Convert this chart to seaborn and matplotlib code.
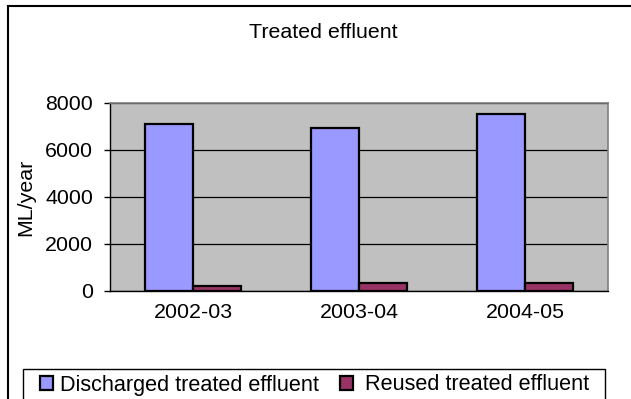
import matplotlib
matplotlib.use("Agg")
import matplotlib.pyplot as plt
from matplotlib.patches import Rectangle, Patch
import seaborn as sns
import pandas as pd

years = ["2002-03", "2003-04", "2004-05"]
discharged = [7100, 6900, 7500]
reused = [230, 330, 330]
series_names = ["Discharged treated effluent", "Reused treated effluent"]
yticks = [0, 2000, 4000, 6000, 8000]

df = pd.DataFrame({
    "year": years * 2,
    "value": discharged + reused,
    "series": [series_names[0]] * 3 + [series_names[1]] * 3,
})

sns.set_style("white")
plt.rcParams["font.family"] = ["Liberation Sans", "DejaVu Sans"]
plt.rcParams["text.color"] = "black"
plt.rcParams["xtick.color"] = "black"
plt.rcParams["ytick.color"] = "black"
FS = 15.4
LFS = 15.6
W, H = 631, 399
fig = plt.figure(figsize=(W / 100, H / 100), dpi=100)
ax = fig.add_axes([110 / W, 1 - 291 / H, (608 - 110) / W, (291 - 102.5) / H])

colors = ["#9999FF", "#993366"]
sns.barplot(data=df, x="year", y="value", hue="series", palette=colors,
            width=0.58, gap=0, edgecolor="black", linewidth=1.6,
            ax=ax, legend=False, saturation=1, zorder=3)

ax.set_facecolor("#C0C0C0")
ax.set_xlim(-0.5, 2.5)
ax.set_ylim(0, 8000)
ax.set_yticks(yticks)
ax.set_yticklabels([str(v) for v in yticks], fontsize=FS)
ax.yaxis.grid(True, color="black", linewidth=0.9, zorder=1)
ax.set_axisbelow(True)
ax.set_xlabel("")
ax.set_ylabel("")
ax.tick_params(axis="x", which="major", length=0, pad=9, labelsize=FS, labelcolor="black")
ax.set_xticks([-0.5, 0.5, 1.5, 2.5], minor=True)
ax.tick_params(axis="x", which="minor", length=5, width=1, color="black", direction="out")
ax.tick_params(axis="y", length=4, width=1, color="black", direction="out", pad=8, left=True,
               labelcolor="black")
for s in ["top", "right"]:
    ax.spines[s].set_color("#808080")
    ax.spines[s].set_linewidth(1.2)
for s in ["left", "bottom"]:
    ax.spines[s].set_color("black")
    ax.spines[s].set_linewidth(1.0)

fig.text(323 / W, 1 - 32 / H, "Treated effluent", ha="center", va="center", fontsize=FS,
         color="black")
fig.text(26 / W, 1 - 197 / H, "ML/year", ha="center", va="center", rotation=90, fontsize=FS,
         color="black")

# outer chart border
fig.patches.append(Rectangle((8 / W, -0.1), 1.2, (1 - 6 / H) + 0.1, transform=fig.transFigure,
                             fill=False, edgecolor="black", linewidth=1.5))
# legend frame
fig.patches.append(Rectangle((23 / W, -0.1), (605 - 23) / W, (1 - 369 / H) + 0.1,
                             transform=fig.transFigure, fill=False, edgecolor="black", linewidth=1.0))
handles = [Patch(facecolor=c, edgecolor="black", linewidth=1.6) for c in colors]
leg_labels = [series_names[0], " " + series_names[1]]
fig.legend(handles, leg_labels, loc="center left", bbox_to_anchor=(40.5 / W, 1 - 385 / H),
           ncol=2, frameon=False, fontsize=LFS, handlelength=0.6, handleheight=0.6,
           handletextpad=0.28, columnspacing=1.0, borderpad=0, borderaxespad=0)

fig.savefig("out.png", dpi=100)
